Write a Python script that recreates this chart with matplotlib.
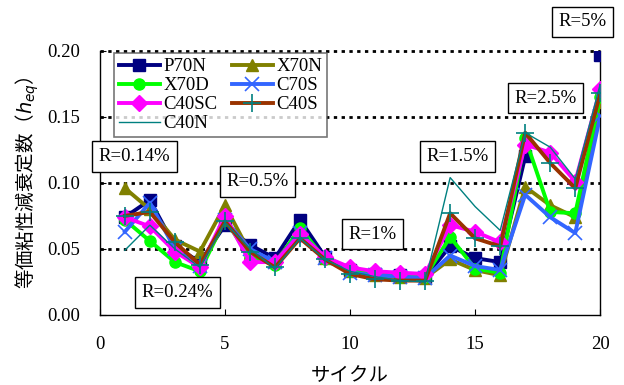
import numpy as np
import matplotlib
matplotlib.use("Agg")
import matplotlib.pyplot as plt

# データ (サイクル 1-20)
cycles = list(range(1, 21))
nan = np.nan
p70n = [0.074, 0.087, 0.052, 0.040, 0.068, 0.053, 0.043, 0.072, 0.044, 0.034,
        0.031, 0.030, 0.029, 0.052, 0.043, 0.040, 0.120, nan, nan, 0.197]
x70n = [0.096, 0.080, 0.057, 0.048, 0.083, 0.047, 0.040, 0.064, 0.043, 0.033,
        0.030, 0.029, 0.028, 0.042, 0.034, 0.030, 0.097, 0.083, 0.074, 0.161]
x70d = [0.072, 0.056, 0.040, 0.033, 0.072, 0.044, 0.038, 0.066, 0.042, 0.033,
        0.031, 0.029, 0.029, 0.059, 0.035, 0.032, 0.134, 0.078, 0.077, 0.165]
c70s = [0.063, 0.085, 0.050, 0.037, 0.072, 0.050, 0.040, 0.062, 0.043, 0.032,
        0.030, 0.029, 0.028, 0.045, 0.037, 0.034, 0.091, 0.074, 0.062, 0.151]
c40sc = [0.074, 0.067, 0.048, 0.036, 0.075, 0.040, 0.040, 0.061, 0.044, 0.036,
         0.033, 0.032, 0.031, 0.068, 0.063, 0.055, 0.129, 0.123, 0.101, 0.171]
c40s = [0.075, 0.078, 0.055, 0.038, 0.071, 0.048, 0.036, 0.058, 0.042, 0.031,
        0.027, 0.026, 0.026, 0.077, 0.058, 0.052, 0.138, 0.115, 0.096, 0.168]
c40n = [0.049, 0.068, 0.050, 0.036, 0.070, 0.050, 0.035, 0.058, 0.042, 0.033,
        0.029, 0.026, 0.025, 0.104, 0.082, 0.064, 0.138, 0.127, 0.103, 0.175]

# 変形角ラベル
r_labels = ["R=0.14%", "R=0.24%", "R=0.5%", "R=1%", "R=1.5%", "R=2.5%", "R=5%"]
r_pos = [(1.38, 0.120), (3.1, 0.017), (6.3, 0.101), (10.9, 0.061),
         (14.3, 0.120), (17.8, 0.164), (19.3, 0.222)]

serif = "Liberation Serif"
cjk = ["Noto Sans CJK JP", "DejaVu Sans"]
fs = 13.5

fig = plt.figure(figsize=(6.24, 3.85), dpi=100)
ax = fig.add_axes([0.160, 0.182, 0.802, 0.686])

for y in [0.05, 0.10, 0.15, 0.20]:
    ax.axhline(y, color="black", lw=2, ls=(0, (1.2, 1.6)), zorder=1, clip_on=False)

lw = 2.8
lines = {}
lines["P70N"] = ax.plot(cycles, p70n, color="#000080", lw=lw, marker="s", ms=8, zorder=3)[0]
lines["X70N"] = ax.plot(cycles, x70n, color="#808000", lw=lw, marker="^", ms=9, zorder=3)[0]
lines["X70D"] = ax.plot(cycles, x70d, color="#00ff00", lw=lw, marker="o", ms=8, zorder=3)[0]
lines["C70S"] = ax.plot(cycles, c70s, color="#3366ff", lw=lw, marker="x", ms=10, mew=1.2, zorder=3)[0]
lines["C40SC"] = ax.plot(cycles, c40sc, color="#ff00ff", lw=lw, marker="D", ms=8, zorder=3)[0]
lines["C40S"] = ax.plot(cycles, c40s, color="#993300", lw=lw, marker="+", ms=13, mew=1.2,
                        mec="#008080", zorder=3)[0]
lines["C40N"] = ax.plot(cycles, c40n, color="#008080", lw=1, zorder=3)[0]

for txt, (x, y) in zip(r_labels, r_pos):
    ax.text(x, y, txt, ha="center", va="center", fontsize=fs, family=serif,
            bbox=dict(boxstyle="square,pad=0.35", fc="white", ec="black", lw=1),
            zorder=5, clip_on=False)

ax.set_xlim(0, 20)
ax.set_ylim(0, 0.20)
ax.set_xticks([0, 5, 10, 15, 20])
ax.set_yticks([0.00, 0.05, 0.10, 0.15, 0.20])
ax.set_yticklabels(["0.00", "0.05", "0.10", "0.15", "0.20"])
ax.tick_params(direction="in", length=4, labelsize=fs)
ax.tick_params(axis="y", pad=14)
ax.tick_params(axis="x", pad=15)
for lab in ax.get_xticklabels() + ax.get_yticklabels():
    lab.set_family(serif)
ax.spines["top"].set_visible(False)
for s in ["left", "right", "bottom"]:
    ax.spines[s].set_linewidth(1)

ax.set_xlabel("サイクル", family=cjk, fontsize=14, labelpad=9)
ax.set_ylabel("等価粘性減衰定数（$h_{eq}$）", family=cjk, fontsize=14, labelpad=5)

order = ["P70N", "X70D", "C40SC", "C40N", "X70N", "C70S", "C40S"]
leg = ax.legend([lines[k] for k in order], order, ncol=2, loc="upper left",
                bbox_to_anchor=(0.028, 0.99),
                prop={"family": serif, "size": fs}, frameon=True, fancybox=False,
                handlelength=2.2, labelspacing=0.1, columnspacing=0.75,
                borderpad=0.25, handletextpad=0.2, borderaxespad=0)
leg.get_frame().set_edgecolor("#555555")
leg.get_frame().set_linewidth(1.2)
leg.set_zorder(6)

fig.savefig("out.png", dpi=100)
